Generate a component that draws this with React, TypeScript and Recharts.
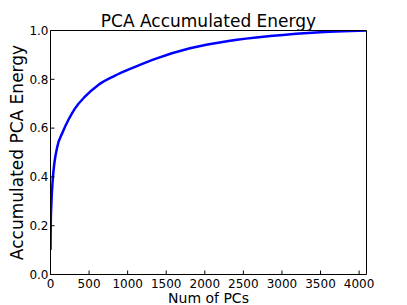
import { LineChart, Line, XAxis, YAxis, Label } from "recharts"

// number of principal components vs accumulated energy
const pcs = [0, 4, 10, 28, 50, 88, 153, 231, 318, 447, 620, 836, 1073, 1377, 1808, 2327, 2845, 3493, 3791, 4096]
const energy = [0.1, 0.22, 0.28, 0.385, 0.456, 0.524, 0.58, 0.633, 0.681, 0.729, 0.777, 0.815, 0.848, 0.886, 0.927, 0.958, 0.977, 0.993, 0.997, 1.0]

const xTicks = [0, 500, 1000, 1500, 2000, 2500, 3000, 3500, 4000]
const yTicks = [0, 0.2, 0.4, 0.6, 0.8, 1.0]

const data = pcs.map((n, i) => ({ n, energy: energy[i] }))

const font = "DejaVu Sans"
const tickStyle = { fill: "#000", fontSize: 12, fontFamily: font }

export default function App() {
  return (
    <div style={{ position: "absolute", left: 0, top: 0 }}>
      <LineChart
        width={407}
        height={305}
        data={data}
        margin={{ top: 29.5, right: 39.5, bottom: 0, left: 0 }}
        style={{ fontFamily: font }}
      >
        <XAxis
          xAxisId="bottom"
          dataKey="n"
          type="number"
          domain={[0, 4096]}
          ticks={xTicks}
          allowDataOverflow
          height={30.5}
          stroke="#000"
          tickSize={-4}
          tickMargin={9}
          tick={tickStyle}
        >
          <Label value="Num of PCs" position="insideBottom" offset={2} style={{ fontSize: 14, fill: "#000", fontFamily: font }} />
        </XAxis>
        <XAxis
          xAxisId="top"
          orientation="top"
          dataKey="n"
          type="number"
          domain={[0, 4096]}
          ticks={xTicks}
          allowDataOverflow
          height={1}
          stroke="#000"
          tickSize={-4}
          tick={false}
        >
          <Label value="PCA Accumulated Energy" position="top" offset={2.8} style={{ fontSize: 17, fill: "#000", fontFamily: font }} />
        </XAxis>
        <YAxis
          yAxisId="left"
          type="number"
          domain={[0, 1]}
          ticks={yTicks}
          allowDataOverflow
          width={50.5}
          stroke="#000"
          tickSize={-4}
          tickMargin={6}
          tick={tickStyle}
          tickFormatter={(v: number) => v.toFixed(1)}
        >
          <Label
            value="Accumulated PCA Energy"
            angle={-90}
            position="insideLeft"
            offset={16.5}
            style={{ fontSize: 17, fill: "#000", fontFamily: font, textAnchor: "middle" }}
          />
        </YAxis>
        <YAxis
          yAxisId="right"
          orientation="right"
          type="number"
          domain={[0, 1]}
          ticks={yTicks}
          allowDataOverflow
          width={1}
          stroke="#000"
          tickSize={-4}
          tick={false}
        />
        <Line
          xAxisId="bottom"
          yAxisId="left"
          type="monotone"
          dataKey="energy"
          stroke="#0000ff"
          strokeWidth={2.5}
          dot={false}
          isAnimationActive={false}
        />
      </LineChart>
    </div>
  )
}
